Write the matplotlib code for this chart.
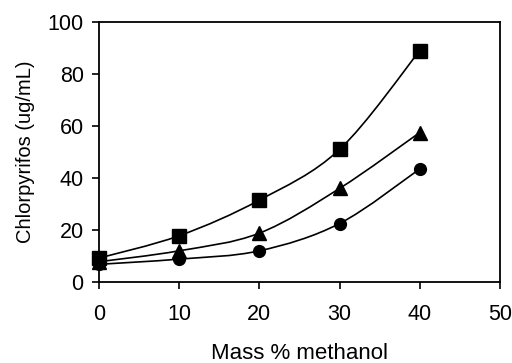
import numpy as np
import matplotlib.pyplot as plt
from matplotlib.path import Path
from matplotlib.patches import PathPatch

plt.rcParams['font.family'] = ['Liberation Sans', 'DejaVu Sans']

methanol = [0, 10, 20, 30, 40]
square_vals = [9.2, 17.8, 31.5, 51.0, 89.0]
triangle_vals = [7.8, 12.0, 18.8, 36.0, 57.5]
circle_vals = [6.8, 8.8, 12.0, 22.5, 43.5]


def smooth_path(x, y):
    # Excel-style smoothed line: Catmull-Rom converted to cubic Bezier
    x = np.asarray(x, float)
    y = np.asarray(y, float)
    pts = np.column_stack([x, y])
    verts = [pts[0]]
    codes = [Path.MOVETO]
    n = len(pts)
    for i in range(n - 1):
        p0 = pts[i - 1] if i > 0 else pts[i]
        p1 = pts[i]
        p2 = pts[i + 1]
        p3 = pts[i + 2] if i + 2 < n else pts[i + 1]
        c1 = p1 + (p2 - p0) / 6
        c2 = p2 - (p3 - p1) / 6
        verts += [c1, c2, p2]
        codes += [Path.CURVE4] * 3
    return Path(verts, codes)


fig = plt.figure(figsize=(5.12, 3.63), dpi=100)
ax = fig.add_axes([99 / 512, 1 - 282 / 363, 401 / 512, 260 / 363])

for vals, marker, ms in [(square_vals, 's', 10.5), (triangle_vals, '^', 9.5), (circle_vals, 'o', 8.5)]:
    ax.add_patch(PathPatch(smooth_path(methanol, vals), facecolor='none',
                           edgecolor='black', linewidth=1.2))
    ax.plot(methanol, vals, linestyle='none', marker=marker, markersize=ms,
            color='black', clip_on=False, zorder=3)

ax.set_xlim(0, 50)
ax.set_ylim(0, 100)
ax.set_xticks([0, 10, 20, 30, 40, 50])
ax.set_yticks([0, 20, 40, 60, 80, 100])
ax.tick_params(direction='out', length=5, width=1.2, labelsize=15.5)
ax.tick_params(axis='x', pad=11)
ax.tick_params(axis='y', pad=6)
for s in ax.spines.values():
    s.set_linewidth(1.3)
ax.set_xlabel('Mass % methanol', fontsize=16, labelpad=13)
ax.set_ylabel('Chlorpyrifos (ug/mL)', fontsize=14.5, labelpad=9)

fig.savefig('out.png', dpi=100)
